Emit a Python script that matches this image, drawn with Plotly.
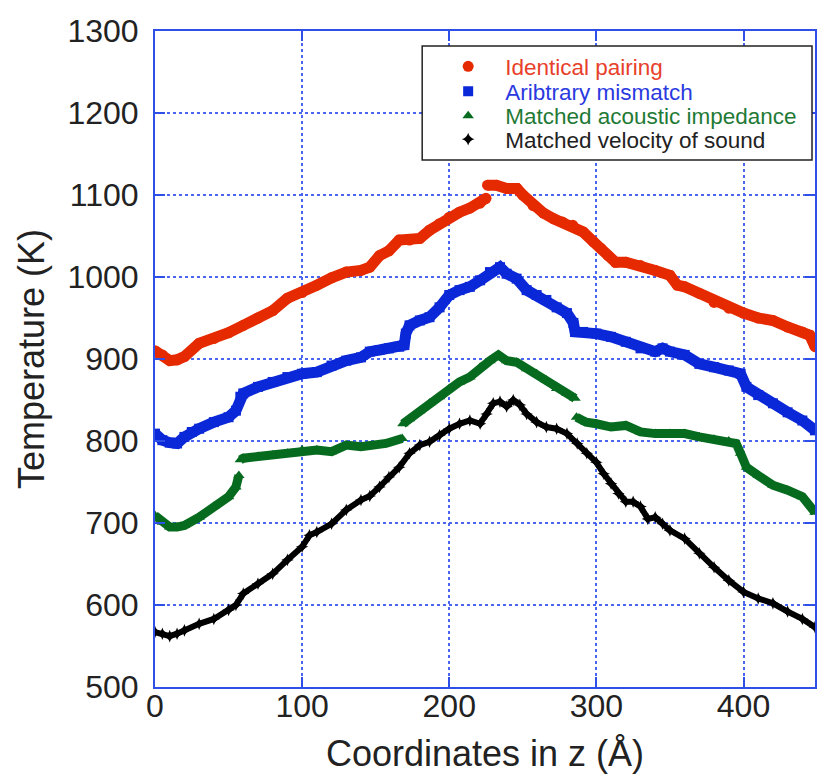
import plotly.graph_objects as go

# ---- data (z in Å, T in K); None = gap in the trace ----
red_z = [0, 5, 10, 15, 20, 30, 40, 50, 60, 70, 80, 90, 100, 110, 120, 130, 140, 146, 152.6, 159,
         166, 173, 180, 186.6, 193.4, 200, 207, 214, 221, 225, 225.5, 226, 232, 239, 246, 250, 257, 264,
         271, 277, 284, 291, 298, 303, 308, 313, 320, 330, 340, 350, 355, 360, 370, 380, 390,
         400, 410, 420, 430, 440, 445, 448.6]
red_t = [910, 905, 898, 899, 903, 919, 925, 932, 941, 950, 959, 974, 981, 990, 999, 1006, 1008, 1012, 1026, 1032,
         1045, 1045, 1047, 1057, 1065, 1073, 1079, 1084, 1090, 1096, None, 1112, 1112, 1108, 1108, 1100, 1087, 1078,
         1071, 1067, 1063, 1055, 1043, 1035, 1026, 1018, 1018, 1014, 1008, 1002, 990, 988, 980, 969, 962,
         956, 950, 947, 939, 933, 929, 915]

blue_z = [0, 5, 10, 15, 20, 25, 30, 40, 50, 55, 58, 60, 70, 80, 90, 100, 110, 120, 130, 140, 146,
          152.6, 159, 166, 169.4, 170.5, 173, 180, 186.6, 193.4, 200, 207, 214, 221, 227.7, 234.5, 239,
          245.8, 252.6, 259.4, 266, 273, 280, 284.4, 285.5, 291, 300, 310, 320, 330, 340, 345, 350,
          360, 370, 380, 390, 398, 402, 410, 420, 430, 440, 448.6]
blue_t = [809, 801, 798, 797, 805, 811, 815, 823, 829, 837, 854, 858, 866, 872, 878, 882, 884, 892, 898, 902, 909,
          911, 913, 915, 917, 931, 941, 947, 951, 963, 978, 984, 988, 996, 1006, 1012, 1004,
          998, 984, 978, 972, 963, 956, 944, 933, 933, 931, 927, 921, 913, 909, 913, 909,
          905, 894, 890, 886, 882, 866, 856, 846, 835, 825, 813]

green_z = [0, 5, 10, 15, 20, 30, 40, 50, 55, 57, 57.5, 58, 60, 70, 80, 90, 100, 110, 120, 130, 140, 146,
           157, 168, 168.2, 168.5, 173, 180, 186.6, 193.4, 200, 207, 214, 221, 227.7, 233.4, 239, 245.8,
           252.6, 259.4, 266, 273, 280, 285.5, 286, 286.5, 293, 300, 310, 320, 330, 340, 350, 360, 370,
           380, 390, 395, 398, 402, 410, 420, 430, 440, 448.6]
green_t = [709, 701, 695, 695, 697, 707, 720, 732, 744, 758, None, 777, 779, 781, 783, 785, 789, 789, 787, 795, 793, 794,
           797, 803, None, 821, 827, 837, 846, 854, 864, 872, 878, 890, 898, 905, 898, 896,
           888, 882, 874, 864, 858, 852, None, 829, 823, 821, 817, 819, 811, 809, 809, 809, 805,
           802, 800, 797, 785, 768, 758, 746, 740, 732, 713]

black_z = [0, 5, 10, 15, 20, 30, 40, 50, 55, 60, 70, 80, 90, 100, 105, 110, 120, 130, 140, 146, 152.6,
           159, 166, 173, 180, 186.6, 193.4, 200, 207, 214, 221, 225.4, 229.9, 234.5, 239, 243.5, 248,
           252.6, 259.4, 266, 273, 280, 287, 293.5, 300, 305, 310, 315, 320, 325, 330, 335, 340, 345,
           350, 360, 370, 380, 390, 400, 410, 420, 430, 440, 448.6]
black_t = [567, 565, 562, 565, 569, 577, 583, 594, 600, 614, 626, 638, 655, 671, 685, 689, 699, 716, 728, 733, 744,
           756, 768, 785, 795, 799, 807, 815, 821, 825, 821, 833, 846, 848, 842, 850, 844,
           833, 823, 817, 815, 809, 797, 785, 774, 760, 748, 736, 726, 726, 720, 705, 707, 699,
           691, 681, 663, 646, 630, 616, 608, 602, 592, 583, 573]

series_names = ["Identical pairing", "Aribtrary mismatch",
                "Matched acoustic impedance", "Matched velocity of sound"]
x_ticks = [0, 100, 200, 300, 400]
y_ticks = [500, 600, 700, 800, 900, 1000, 1100, 1200, 1300]

# ---- styles ----
styles = [
    dict(color="#e62a00", text="#e8402a", symbol="circle", msize=11, lw=11),
    dict(color="#0a28d8", text="#2a3ae0", symbol="square", msize=10, lw=11),
    dict(color="#066b1e", text="#1f7a36", symbol="triangle-up", msize=10, lw=9),
    dict(color="#000000", text="#222222", symbol="star-diamond", msize=9, lw=6),
]
data = [(red_z, red_t), (blue_z, blue_t), (green_z, green_t), (black_z, black_t)]
legend_ids = ["legend", "legend2", "legend3", "legend4"]

# layout geometry (pixels)
W, H = 817, 774
L, R, T, B = 155, 0, 31, 87
pw, ph = W - L - R, H - T - B


def px_x(x):
    return (x - L) / pw


def px_y(y):
    return (H - B - y) / ph


fig = go.Figure()
for (zz, tt), st, nm in zip(data, styles, series_names):
    fig.add_trace(go.Scatter(x=zz, y=tt, mode="lines", line=dict(color=st["color"], width=st["lw"]),
                             connectgaps=False, showlegend=False, legendgroup=nm, hoverinfo="skip"))
for (zz, tt), st, nm, lg in zip(data, styles, series_names, legend_ids):
    fig.add_trace(go.Scatter(x=zz, y=tt, mode="markers", legendgroup=nm, legend=lg,
                             name=f'<span style="color:{st["text"]}">{nm}</span>',
                             marker=dict(color=st["color"], symbol=st["symbol"], size=st["msize"],
                                         line=dict(width=0))))

axis_blue = "#2f50e8"
grid_blue = "#4a66f0"
common = dict(showline=True, linecolor=axis_blue, linewidth=2, mirror="allticks",
              ticks="inside", ticklen=10, tickwidth=2, tickcolor=axis_blue,
              showgrid=True, gridcolor=grid_blue, gridwidth=1.5, griddash="dot",
              zeroline=False, tickfont=dict(size=32, color="#222222"))

legend_centers = [66.7, 91.7, 116, 139.5]
legends = {}
for lg, yc in zip(legend_ids, legend_centers):
    legends[lg] = dict(x=px_x(432), y=px_y(yc), xanchor="left", yanchor="middle",
                       bgcolor="rgba(0,0,0,0)", borderwidth=0,
                       font=dict(size=22.5), itemwidth=64)

fig.update_layout(
    width=W, height=H,
    margin=dict(l=L, r=R, t=T, b=B),
    paper_bgcolor="white", plot_bgcolor="white",
    font=dict(family="Liberation Sans, Arial, sans-serif", color="#222222"),
    xaxis=dict(range=[0, 448.6], tickvals=x_ticks,
               title=dict(text="Coordinates in z (Å)", font=dict(size=36, color="#222222"), standoff=20),
               ticklabelstandoff=-10, **common),
    yaxis=dict(range=[500, 1300], tickvals=y_ticks,
               title=dict(text="Temperature (K)", font=dict(size=36, color="#222222"), standoff=12),
               ticklabelstandoff=8, **common),
    shapes=[dict(type="rect", xref="paper", yref="paper", layer="above",
                 x0=px_x(423), x1=px_x(814), y0=px_y(160), y1=px_y(46),
                 line=dict(color="#222222", width=1.5), fillcolor="white")],
    showlegend=True,
    **legends,
)

fig.write_html("out.html")
